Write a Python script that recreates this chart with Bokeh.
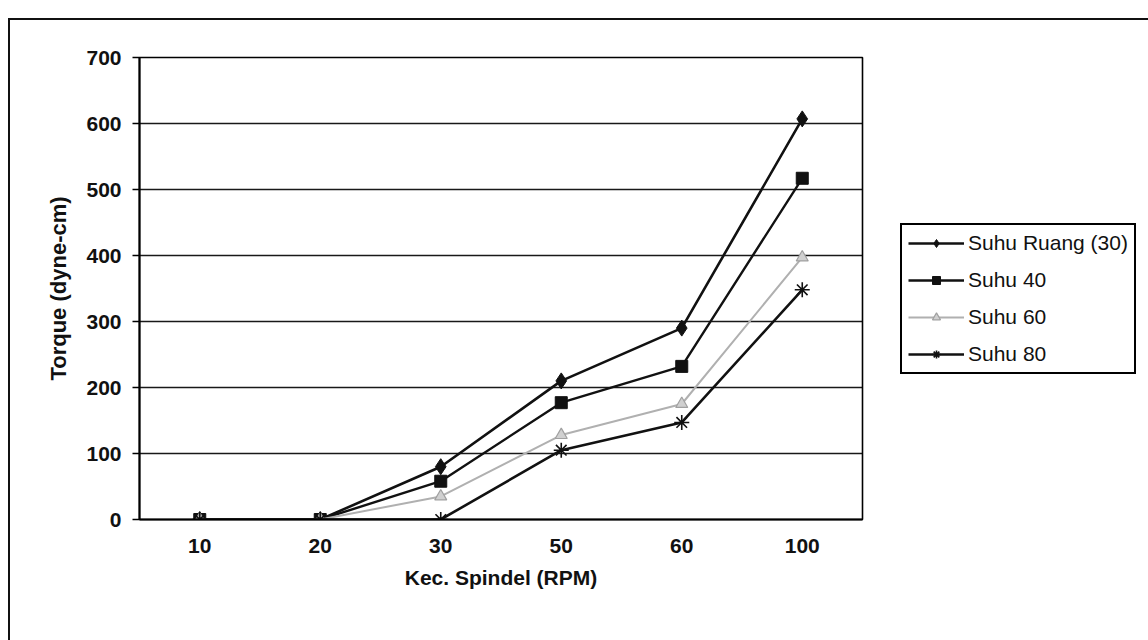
from bokeh.plotting import figure
from bokeh.models import FactorRange, Range1d, Legend, LegendItem, FixedTicker
from bokeh.embed import file_html
from bokeh.resources import INLINE

# ---- data ----
speeds = ["10", "20", "30", "50", "60", "100"]
suhu_ruang = [0, 0, 80, 210, 290, 607]
suhu_40 = [0, 0, 58, 177, 232, 517]
suhu_60 = [0, 0, 35, 128, 175, 397]
suhu_80 = [0, 0, 0, 105, 147, 348]
y_ticks = [0, 100, 200, 300, 400, 500, 600, 700]

FONT = "Liberation Sans"

p = figure(
    x_range=FactorRange(factors=speeds, range_padding=0),
    y_range=Range1d(0, 700),
    frame_width=723, frame_height=462,
    min_border_left=129, min_border_right=282,
    min_border_top=37, min_border_bottom=123,
    output_backend="svg", toolbar_location=None,
    background_fill_color="white", border_fill_color="white",
)
p.margin = (18, 0, 0, 8)
p.styles = {"border-left": "2px solid #111", "border-top": "2px solid #111",
            "border-right": "2px solid #111"}

p.outline_line_color = "black"
p.outline_line_width = 1.6
p.outline_line_alpha = 1

p.xgrid.grid_line_color = None
p.ygrid.grid_line_color = "black"
p.ygrid.grid_line_width = 1.7
p.ygrid.grid_line_alpha = 0.9

# axes
p.yaxis.ticker = FixedTicker(ticks=y_ticks)
p.yaxis.minor_tick_line_color = None
p.yaxis.major_tick_in = 0
p.yaxis.major_tick_out = 7
p.yaxis.major_label_standoff = 11
p.yaxis.axis_label = "Torque (dyne-cm)"
p.yaxis.axis_label_standoff = 12

p.xaxis.major_tick_in = 0
p.xaxis.major_tick_out = 0
p.xaxis.major_label_standoff = 19
p.xaxis.axis_label = "Kec. Spindel (RPM)"
p.xaxis.axis_label_standoff = 10

for ax in (p.xaxis[0], p.yaxis[0]):
    ax.axis_line_color = "black"
    ax.axis_line_width = 2
    ax.major_tick_line_color = "black"
    ax.major_tick_line_width = 1.5
    ax.major_label_text_font = FONT
    ax.major_label_text_font_style = "bold"
    ax.major_label_text_font_size = "21px"
    ax.major_label_text_color = "#111111"
    ax.axis_label_text_font = FONT
    ax.axis_label_text_font_style = "bold"
    ax.axis_label_text_color = "#111111"
p.xaxis.axis_label_text_font_size = "21px"
p.yaxis.axis_label_text_font_size = "22px"

# series
r1l = p.line(speeds, suhu_ruang, line_color="#111111", line_width=2.6)
r1m = p.scatter(speeds, suhu_ruang, marker="diamond", size=16,
                fill_color="#111111", line_color="#111111")
r2l = p.line(speeds, suhu_40, line_color="#111111", line_width=2.4)
r2m = p.scatter(speeds, suhu_40, marker="square", size=12,
                fill_color="#111111", line_color="#111111")
r3l = p.line(speeds, suhu_60, line_color="#b0b0b0", line_width=2)
r3m = p.scatter(speeds, suhu_60, marker="triangle", size=12,
                fill_color="#d0d0d0", line_color="#a0a0a0", line_width=1.2)
r4l = p.line(speeds, suhu_80, line_color="#111111", line_width=2.6)
r4m = p.scatter(speeds, suhu_80, marker="asterisk", size=15,
                line_color="#111111", line_width=1.6)

legend = Legend(
    items=[
        LegendItem(label="Suhu Ruang (30)", renderers=[r1l, r1m]),
        LegendItem(label="Suhu 40", renderers=[r2l, r2m]),
        LegendItem(label="Suhu 60", renderers=[r3l, r3m]),
        LegendItem(label="Suhu 80", renderers=[r4l, r4m]),
    ],
    location=(38, 145),
    orientation="vertical",
    border_line_color="black", border_line_width=2, border_line_alpha=1,
    background_fill_color="white",
    label_text_font=FONT, label_text_font_size="21px",
    label_text_color="#111111",
    glyph_width=56, glyph_height=20, label_height=20,
    spacing=13, padding=6, label_standoff=4, margin=0,
)
p.add_layout(legend, "right")

open("out.html", "w").write(file_html(p, INLINE))
